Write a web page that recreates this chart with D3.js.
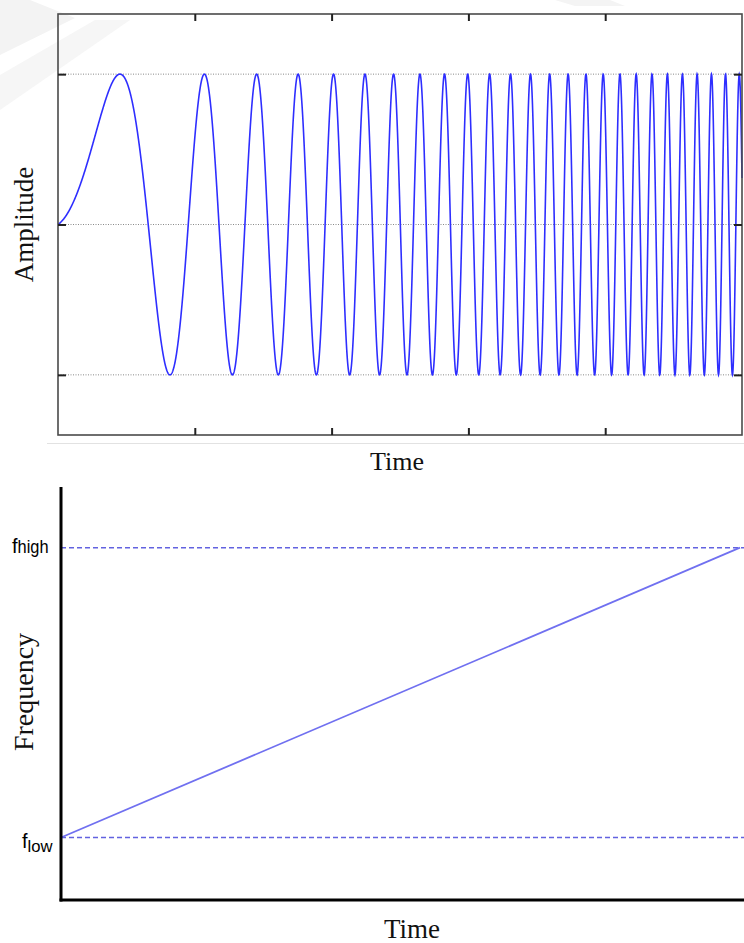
<!DOCTYPE html>
<html>
<head>
<meta charset="utf-8">
<script src="https://cdn.jsdelivr.net/npm/d3@7"></script>
<style>
  body { margin: 0; background: #fff; }
  svg { display: block; }
</style>
</head>
<body>
<div id="chart"></div>
<script>
// frequency sweep (cycles per whole time span)
let fLow = 0.5;
let fHigh = 50.4;
let sweepTimes = [0, 1];
let sweepFreqs = [fLow, fHigh];

let ampLevels = [-1, 0, 1];
let timeTicks = [1, 2, 3, 4];
let timeSpan = [0, 5];

let freqLabels = ['high', 'low'];

let dim = { width: 744, height: 943 };

let svg = d3.select('#chart').append('svg')
    .attr('width', dim.width)
    .attr('height', dim.height);

// faint watermark in the background
let wm = svg.append('g').attr('fill', '#f3f3f3');
wm.append('path').attr('d', 'M0,0 L30,0 L75,18 L0,55 Z');
wm.append('path').attr('d', 'M0,75 L95,20 L130,20 L0,110 Z').attr('fill', '#f6f6f6');
wm.append('path').attr('d', 'M555,0 L610,0 L625,6 L575,6 Z').attr('fill', '#f4f4f4');
svg.append('line')
    .attr('x1', 47).attr('x2', 744).attr('y1', 443.5).attr('y2', 443.5)
    .attr('stroke', '#e2e2e2').attr('stroke-width', 1);

// ---------- top: chirp amplitude ----------
let boxA = { left: 58, right: 742, top: 14, bottom: 435 };

let x1 = d3.scaleLinear().domain(timeSpan).range([boxA.left, boxA.right]);
let y1 = d3.scaleLinear().domain([-1.4, 1.4]).range([boxA.bottom, boxA.top]);

let g1 = svg.append('g');

g1.selectAll('line.grid')
    .data(ampLevels)
    .join('line')
    .attr('class', 'grid')
    .attr('x1', boxA.left).attr('x2', boxA.right)
    .attr('y1', d => y1(d)).attr('y2', d => y1(d))
    .attr('stroke', '#8a8a8a')
    .attr('stroke-width', 1)
    .attr('stroke-dasharray', '1,1.5');

// cycles elapsed at time t, for a linear sweep fLow -> fHigh
function cycles(t) {
    let u = (t - timeSpan[0]) / (timeSpan[1] - timeSpan[0]);
    return sweepFreqs[0] * u + (sweepFreqs[1] - sweepFreqs[0]) * u * u / 2;
}

let samples = d3.range(0, 3001).map(i => {
    let t = timeSpan[0] + (timeSpan[1] - timeSpan[0]) * i / 3000;
    return { t: t, a: Math.sin(2 * Math.PI * cycles(t)) };
});

g1.append('path')
    .datum(samples)
    .attr('fill', 'none')
    .attr('stroke', '#2e2eff')
    .attr('stroke-width', 1.6)
    .attr('d', d3.line().x(d => x1(d.t)).y(d => y1(d.a)));

g1.append('rect')
    .attr('x', boxA.left).attr('y', boxA.top)
    .attr('width', boxA.right - boxA.left)
    .attr('height', boxA.bottom - boxA.top)
    .attr('fill', 'none')
    .attr('stroke', '#4a4a4a')
    .attr('stroke-width', 1.6);

function styleTicks(sel) {
    sel.select('.domain').remove();
    sel.selectAll('.tick line').attr('stroke', '#222').attr('stroke-width', 2);
    sel.selectAll('.tick text').remove();
}

g1.append('g')
    .attr('transform', `translate(0, ${boxA.top})`)
    .call(d3.axisBottom(x1).tickValues(timeTicks).tickSize(7).tickFormat(''))
    .call(styleTicks);
g1.append('g')
    .attr('transform', `translate(0, ${boxA.bottom})`)
    .call(d3.axisTop(x1).tickValues(timeTicks).tickSize(7).tickFormat(''))
    .call(styleTicks);
g1.append('g')
    .attr('transform', `translate(${boxA.left}, 0)`)
    .call(d3.axisRight(y1).tickValues(ampLevels).tickSize(8).tickFormat(''))
    .call(styleTicks);
g1.append('g')
    .attr('transform', `translate(${boxA.right}, 0)`)
    .call(d3.axisLeft(y1).tickValues(ampLevels).tickSize(8).tickFormat(''))
    .call(styleTicks);

g1.append('text')
    .attr('transform', `translate(33, ${(boxA.top + boxA.bottom) / 2}) rotate(-90)`)
    .attr('text-anchor', 'middle')
    .attr('font-family', 'Liberation Serif, Times New Roman, serif')
    .attr('font-size', 27)
    .attr('fill', '#111')
    .text('Amplitude');

g1.append('text')
    .attr('x', 397).attr('y', 470)
    .attr('text-anchor', 'middle')
    .attr('font-family', 'Liberation Serif, Times New Roman, serif')
    .attr('font-size', 26)
    .attr('fill', '#111')
    .text('Time');

// ---------- bottom: frequency vs time ----------
let boxB = { left: 61, right: 740, top: 487, bottom: 900 };

let x2 = d3.scaleLinear().domain(sweepTimes).range([boxB.left, boxB.right]);
let y2 = d3.scaleLinear()
    .domain([fLow, fHigh])
    .range([837.5, 547.7]);

let g2 = svg.append('g');

g2.selectAll('line.level')
    .data([fHigh, fLow])
    .join('line')
    .attr('class', 'level')
    .attr('x1', boxB.left).attr('x2', 744)
    .attr('y1', d => y2(d)).attr('y2', d => y2(d))
    .attr('stroke', '#6262e0')
    .attr('stroke-width', 1.5)
    .attr('stroke-dasharray', '5,3');

g2.append('path')
    .datum(sweepTimes.map((t, i) => ({ t: t, f: sweepFreqs[i] })))
    .attr('fill', 'none')
    .attr('stroke', '#7070f0')
    .attr('stroke-width', 1.8)
    .attr('d', d3.line().x(d => x2(d.t)).y(d => y2(d.f)));

g2.append('line')
    .attr('x1', boxB.left).attr('x2', boxB.left)
    .attr('y1', boxB.top).attr('y2', boxB.bottom + 1.5)
    .attr('stroke', '#000').attr('stroke-width', 3);
g2.append('line')
    .attr('x1', boxB.left - 1.5).attr('x2', 744)
    .attr('y1', boxB.bottom).attr('y2', boxB.bottom)
    .attr('stroke', '#000').attr('stroke-width', 3);

// f_high / f_low labels
let labelX = [12, 22];
let labelY = [y2(fHigh) + 5.5, y2(fLow) + 10.5];
let subSize = [18.5, 17];
let subLen = [31, 25];
[fHigh, fLow].forEach((v, i) => {
    let t = g2.append('text')
        .attr('x', labelX[i])
        .attr('y', labelY[i])
        .attr('font-family', 'Liberation Sans, Arial, sans-serif')
        .attr('font-size', 20)
        .attr('fill', '#000');
    t.append('tspan').text('f');
    t.append('tspan')
        .attr('font-size', subSize[i])
        .attr('dy', i == 0 ? 0 : 4)
        .attr('textLength', subLen[i])
        .attr('lengthAdjust', 'spacingAndGlyphs')
        .text(freqLabels[i]);
});

g2.append('text')
    .attr('transform', `translate(33, 692) rotate(-90)`)
    .attr('text-anchor', 'middle')
    .attr('font-family', 'Liberation Serif, Times New Roman, serif')
    .attr('font-size', 28)
    .attr('fill', '#111')
    .text('Frequency');

g2.append('text')
    .attr('x', 412).attr('y', 938)
    .attr('text-anchor', 'middle')
    .attr('font-family', 'Liberation Serif, Times New Roman, serif')
    .attr('font-size', 27)
    .attr('fill', '#111')
    .text('Time');
</script>
</body>
</html>
